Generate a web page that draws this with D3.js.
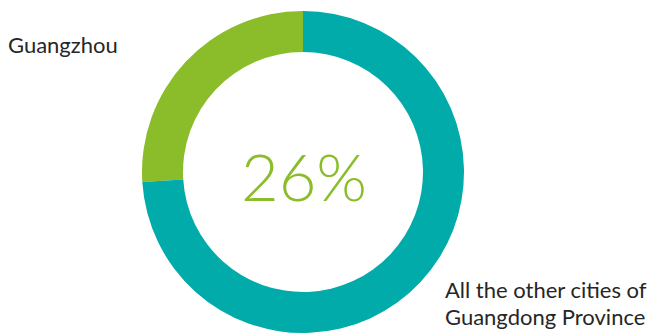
<!DOCTYPE html>
<html><head><meta charset="utf-8">
<script src="https://cdn.jsdelivr.net/npm/d3@7"></script>
<style>body{margin:0;background:#fff}svg{display:block}</style>
</head><body>
<svg id="c" width="649" height="334"></svg>
<script>
const categories = ["Guangzhou", "All the other cities of Guangdong Province"];
const values = [26, 74];
const colors = ["#8BBC29", "#00ABAA"];
const centerLabel = "26%";

const svg = d3.select("#c");
const cx = 303, cy = 172, rOuter = 161, rInner = 120;
const pie = d3.pie().sort(null).startAngle(0).endAngle(-2*Math.PI).value(d => d);
const arcs = pie(values);
const arc = d3.arc().innerRadius(rInner).outerRadius(rOuter);
const g = svg.append("g").attr("transform", `translate(${cx},${cy})`);
g.selectAll("path").data(arcs).join("path")
  .attr("d", arc).attr("fill", (d,i) => colors[i]);

g.append("text").attr("x", 1).attr("y", 29).attr("text-anchor","middle")
  .attr("font-family","Lato").attr("font-weight",300).attr("font-size",65)
  .attr("fill", colors[0]).text(centerLabel);

svg.append("text").attr("x", 8).attr("y", 53)
  .attr("font-family","Lato").attr("font-size",22).attr("fill","#262626")
  .text(categories[0]);

const t = svg.append("text").attr("font-family","Lato").attr("font-size",22).attr("fill","#262626");
t.append("tspan").attr("x",445).attr("y",298).text("All the other cities of");
t.append("tspan").attr("x",445).attr("y",325).text("Guangdong Province");
</script>
</body></html>
